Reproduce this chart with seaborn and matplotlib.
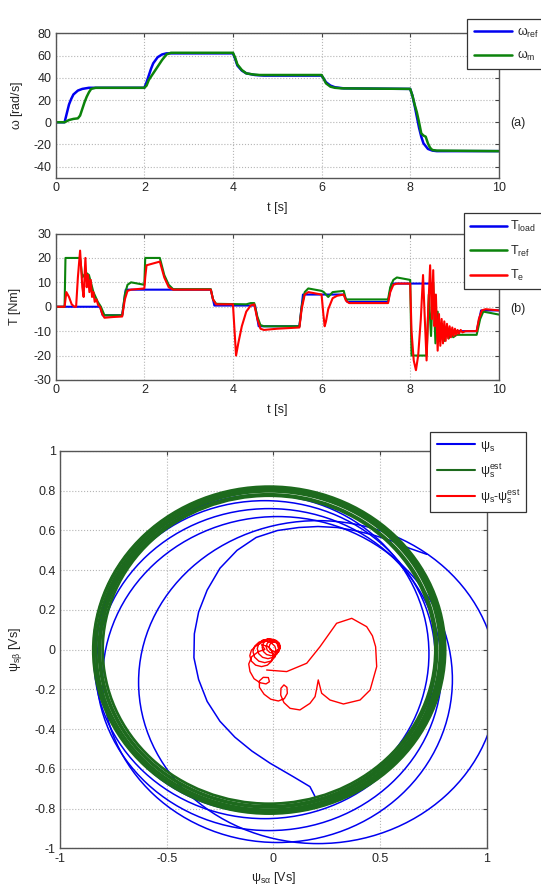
import matplotlib
matplotlib.use("Agg")
import matplotlib.pyplot as plt
from matplotlib.lines import Line2D
from matplotlib.patches import Ellipse
import seaborn as sns

# ---------------- data ----------------
# (a) speed
w_ref_t = [0, 0.2, 0.25, 0.3, 0.35, 0.4, 0.5, 0.6, 0.75, 0.9, 2.0, 2.05, 2.1, 2.15, 2.2, 2.3, 2.4, 2.5,
           4.0, 4.05, 4.1, 4.2, 4.3, 4.5, 4.7, 6.0, 6.05, 6.1, 6.2, 6.3, 6.5,
           8.0, 8.05, 8.1, 8.15, 8.2, 8.25, 8.3, 8.4, 8.5, 8.6, 10.0]
w_ref = [0, 0, 8, 16, 21, 25, 28.5, 30, 31, 31, 31, 36, 42, 48, 53, 58.5, 61, 62,
         62, 57, 51, 46.5, 44, 42.5, 42, 42, 39, 36, 33, 31.5, 30.5,
         30, 24, 15, 5, -5, -13, -19, -24, -25.5, -26, -26]
w_m_t = [0, 0.2, 0.3, 0.4, 0.5, 0.55, 0.6, 0.65, 0.7, 0.75, 0.8, 0.9, 2.0, 2.05, 2.1, 2.2, 2.3, 2.4, 2.5, 2.6,
         4.0, 4.05, 4.1, 4.2, 4.3, 4.45, 4.6, 6.0, 6.05, 6.1, 6.2, 6.3, 6.45,
         8.0, 8.05, 8.1, 8.15, 8.2, 8.25, 8.3, 8.35, 8.4, 8.45, 8.5, 8.6, 10.0]
w_m = [0, 0, 2, 3, 3.5, 6, 12, 18, 23, 27, 30, 31, 31, 33, 38, 44, 50, 56, 61, 62.5,
       62.5, 58, 52, 47, 44, 43, 42.5, 42.5, 39, 35, 32, 31, 30.5,
       30, 24, 16, 9, 0, -10, -12, -13, -19, -23, -25, -25.5, -26]

# (b) torque
tl_t = [0, 1.0, 1.06, 1.5, 1.58, 3.5, 3.58, 4.5, 4.58, 5.5, 5.58, 6.5, 6.58, 7.5, 7.58, 8.5, 8.58, 9.5, 9.6, 10.0]
t_load = [0, 0, -3.5, -3.5, 7, 7, 0.5, 0.5, -8, -8, 5, 5, 2, 2, 9.5, 9.5, -10, -10, -1.5, -1.5]
tr_t = [0, 0.2, 0.22, 0.55, 0.6, 0.68, 0.75, 0.85, 0.95, 1.02, 1.1, 1.5, 1.56, 1.62, 1.7, 2.0, 2.02, 2.35, 2.45, 2.55,
        2.65, 3.5, 3.55, 3.62, 4.3, 4.4, 4.48, 4.55, 4.62, 4.7, 5.5, 5.55, 5.62, 5.7, 6.0, 6.05, 6.15, 6.25, 6.5, 6.55,
        6.62, 7.5, 7.55, 7.62, 7.7, 8.0, 8.03, 8.37, 8.42, 8.47, 8.52, 8.57, 8.62, 8.67, 8.72, 8.77, 8.82, 8.87, 8.92, 8.97,
        9.05, 9.5, 9.58, 9.65, 9.8, 10.0]
t_ref = [0, 0, 20, 20, 12, 14, 13, 6, 2, 0, -3.5, -3.5, 5, 9, 10, 9, 20, 20, 13, 9,
         7.2, 7.2, 3, 1.2, 1, 1.5, 1.5, -4, -7.5, -8, -8, 0, 6, 7.5, 6.5, 6, 4, 6, 6.5, 3,
         3, 3, 8, 11, 12, 11, -20, -20, 5, -12, 10, -15, -2, -14, -7, -14, -9, -13, -10, -12.5,
         -11.5, -11.5, -5, -2, -2.5, -3.2]
te_t = [0, 0.2, 0.24, 0.3, 0.36, 0.42, 0.46, 0.5, 0.55, 0.6, 0.63, 0.67, 0.7, 0.73, 0.76, 0.79, 0.82, 0.85, 0.88, 0.92,
        0.96, 1.0, 1.05, 1.1, 1.3, 1.5, 1.56, 1.62, 1.7, 2.0, 2.02, 2.05, 2.35, 2.45, 2.55, 2.65, 3.5, 3.55, 3.62, 4.0,
        4.03, 4.07, 4.12, 4.2, 4.3, 4.4, 4.48, 4.55, 4.62, 4.7, 5.0, 5.5, 5.55, 5.62, 5.7, 6.0, 6.04, 6.07, 6.1, 6.15,
        6.25, 6.35, 6.5, 6.55, 6.62, 7.5, 7.55, 7.62, 7.7, 8.0, 8.03, 8.08, 8.13, 8.18, 8.24, 8.29, 8.33, 8.37, 8.41, 8.45,
        8.49, 8.52, 8.55, 8.58, 8.62, 8.65, 8.68, 8.71, 8.74, 8.77, 8.8, 8.83, 8.86, 8.89, 8.92, 8.95, 8.98, 9.01, 9.04, 9.07,
        9.1, 9.14, 9.18, 9.25, 9.5, 9.55, 9.62, 9.7, 10.0]
t_e = [0, 0, 6, 4, 1, 0, 0, 12, 23, 8, 4, 20, 8, 13, 6, 11, 4, 6, 2, 3,
       0.5, 0, -3, -4.5, -4.2, -4, 3, 6.5, 7, 7.5, 12, 17, 18.5, 12, 8, 7, 7, 3, 1, 1,
       -8, -20, -15, -8, -2, 0.5, 1, -5, -9, -9.5, -9, -8.5, -1, 5, 6, 5, -3, -8, -6, -1,
       3.5, 4.5, 5, 2.5, 1.5, 1.5, 6, 9, 9.5, 9.5, -10, -22, -26, -20, -5, 13, -5, -22, 0, 17,
       -5, 15, -8, 5, -18, -3, -16, -5, -15, -6, -14, -7, -13, -8, -12.5, -8.5, -12, -9, -11.5, -9.5,
       -11, -9.5, -10.5, -10, -10, -5, -1.5, -1, -1.5]

# (c) stator flux: start of the trajectory, then loops (centre, width, height)
psi_start_a = [0.196, 0.172, 0.094, -0.015, -0.10, -0.18, -0.25, -0.31, -0.35, -0.372, -0.37, -0.35, -0.31,
               -0.25, -0.17, -0.08, 0.02, 0.12, 0.21, 0.30, 0.38, 0.46, 0.55, 0.64, 0.72]
psi_start_b = [-0.739, -0.689, -0.639, -0.571, -0.51, -0.44, -0.36, -0.26, -0.15, -0.04, 0.08, 0.19, 0.30,
               0.41, 0.50, 0.565, 0.60, 0.615, 0.62, 0.615, 0.60, 0.58, 0.55, 0.51, 0.48]
psi_loop_cx = [0.21, 0.02, -0.02, -0.04, -0.05]
psi_loop_cy = [-0.163, -0.15, -0.10, -0.05, -0.02]
psi_loop_w = [1.683, 1.64, 1.62, 1.60, 1.56]
psi_loop_h = [1.625, 1.64, 1.62, 1.60, 1.60]
est_cx = [-0.02, -0.022, -0.018, -0.02, -0.021, -0.019]
est_cy = [0.0, -0.003, 0.002, 0.0, 0.0, -0.002]
est_w = [1.56, 1.58, 1.60, 1.62, 1.64, 1.65]
est_h = [1.55, 1.57, 1.59, 1.61, 1.63, 1.645]
err_a = [-0.031, 0.063, 0.157, 0.219, 0.297, 0.368, 0.438, 0.465, 0.480, 0.485, 0.454, 0.407, 0.329, 0.266,
         0.227, 0.211, 0.204, 0.196, 0.172,
         0.125, 0.079, 0.050, 0.035, 0.036, 0.050, 0.064, 0.066, 0.052, 0.024, -0.012, -0.043, -0.065,
         -0.065, -0.047, -0.023, -0.018, -0.034, -0.062, -0.090, -0.109, -0.115, -0.101, -0.070, -0.039,
         -0.055, -0.0275, -0.0074, 0.0, -0.0074, -0.0275, -0.055, -0.0825, -0.1026, -0.11, -0.1026, -0.0825,
         -0.04, -0.0125, 0.0076, 0.015, 0.0076, -0.0125, -0.04, -0.0675, -0.0876, -0.095, -0.0876, -0.0675,
         -0.025, 0.0, 0.0183, 0.025, 0.0183, 0.0, -0.025, -0.05, -0.0683, -0.075, -0.0683, -0.05,
         -0.01, 0.011, 0.0264, 0.032, 0.0264, 0.011, -0.01, -0.031, -0.0464, -0.052, -0.0464, -0.031,
         0.0, 0.0165, 0.0286, 0.033, 0.0286, 0.0165, 0.0, -0.0165, -0.0286, -0.033, -0.0286, -0.0165,
         0.005, 0.017, 0.0258, 0.029, 0.0258, 0.017, 0.005, -0.007, -0.0158, -0.019, -0.0158, -0.007, 0.005]
err_b = [-0.102, -0.110, -0.068, 0.015, 0.133, 0.158, 0.116, 0.070, 0.015, -0.085, -0.203, -0.253, -0.273, -0.253,
         -0.219, -0.152, -0.194, -0.236, -0.270,
         -0.303, -0.295, -0.266, -0.228, -0.194, -0.177, -0.189, -0.219, -0.246, -0.258, -0.249, -0.224, -0.189,
         -0.157, -0.139, -0.140, -0.161, -0.172, -0.166, -0.146, -0.110, -0.072, -0.035, -0.010, 0.002,
         0.025, 0.0176, -0.0025, -0.03, -0.0575, -0.0776, -0.085, -0.0776, -0.0575, -0.03, -0.0025, 0.0176,
         0.045, 0.0376, 0.0175, -0.01, -0.0375, -0.0576, -0.065, -0.0576, -0.0375, -0.01, 0.0175, 0.0376,
         0.055, 0.0483, 0.03, 0.005, -0.02, -0.0383, -0.045, -0.0383, -0.02, 0.005, 0.03, 0.0483,
         0.054, 0.0484, 0.033, 0.012, -0.009, -0.0244, -0.03, -0.0244, -0.009, 0.012, 0.033, 0.0484,
         0.048, 0.0436, 0.0315, 0.015, -0.0015, -0.0136, -0.018, -0.0136, -0.0015, 0.015, 0.0315, 0.0436,
         0.039, 0.0358, 0.027, 0.015, 0.003, -0.0058, -0.009, -0.0058, 0.003, 0.015, 0.027, 0.0358, 0.039]

BLUE = "#0000f0"
GREEN = "#0b830b"
DKGREEN = "#1d6a1d"
RED = "#ff0000"

# ---------------- style ----------------
sns.set_style("white")
plt.rcParams['font.family'] = ['Liberation Sans', 'DejaVu Sans']
plt.rcParams['mathtext.fontset'] = 'custom'
plt.rcParams['mathtext.rm'] = 'Liberation Sans'
plt.rcParams['mathtext.it'] = 'Liberation Sans:italic'
plt.rcParams['mathtext.default'] = 'regular'
plt.rcParams['axes.unicode_minus'] = False

fig = plt.figure(figsize=(5.41, 8.89), dpi=100)
ax1 = fig.add_axes([0.103, 0.80, 0.819, 0.1625])
ax2 = fig.add_axes([0.103, 0.5726, 0.819, 0.1647])
ax3 = fig.add_axes([0.1109, 0.0456, 0.7884, 0.4471])


def matlab_look(ax):
    ax.grid(True, linestyle=':', color='#b5b5b5', linewidth=0.8)
    ax.tick_params(direction='in', top=True, right=True, length=3, width=0.8,
                   color='#444444', labelsize=9, pad=3)
    for s in ax.spines.values():
        s.set_color('#555555')
        s.set_linewidth(1.0)


def legend_box(handles, labels, x, y, **kw):
    leg = fig.legend(handles, labels, loc='upper left', bbox_to_anchor=(x, y),
                     fancybox=False, framealpha=1, edgecolor='#333333', fontsize=9,
                     borderpad=0.5, **kw)
    leg.get_frame().set_linewidth(0.9)
    return leg


# ---------------- (a) ----------------
sns.lineplot(x=w_ref_t, y=w_ref, ax=ax1, color=BLUE, linewidth=1.8, sort=False, estimator=None)
sns.lineplot(x=w_m_t, y=w_m, ax=ax1, color=GREEN, linewidth=1.8, sort=False, estimator=None)
ax1.set_xlim(0, 10)
ax1.set_ylim(-50, 80)
ax1.set_xticks([0, 2, 4, 6, 8, 10])
ax1.set_yticks([-40, -20, 0, 20, 40, 60, 80])
ax1.set_xlabel("t [s]", fontsize=9)
ax1.set_ylabel(r"$\omega$ [rad/s]", fontsize=9)
ax1.xaxis.set_label_coords(0.5, -0.21)
ax1.xaxis.label.set_va('center')
ax1.yaxis.set_label_coords(-0.087, 0.5)
ax1.yaxis.label.set_va('center')
matlab_look(ax1)
legend_box([Line2D([], [], color=BLUE, lw=1.8), Line2D([], [], color=GREEN, lw=1.8)],
           [r"$\omega_{ref}$", r"$\omega_m$"], 461 / 541, 1 - 13 / 889, labelspacing=0.75,
           handlelength=3.1, handletextpad=0.35)
fig.text(518 / 541, 1 - 123 / 889, "(a)", ha='center', va='center', fontsize=9)

# ---------------- (b) ----------------
sns.lineplot(x=tl_t, y=t_load, ax=ax2, color=BLUE, linewidth=1.5, sort=False, estimator=None)
sns.lineplot(x=tr_t, y=t_ref, ax=ax2, color=GREEN, linewidth=1.5, sort=False, estimator=None)
sns.lineplot(x=te_t, y=t_e, ax=ax2, color=RED, linewidth=1.5, sort=False, estimator=None)
ax2.set_xlim(0, 10)
ax2.set_ylim(-30, 30)
ax2.set_xticks([0, 2, 4, 6, 8, 10])
ax2.set_yticks([-30, -20, -10, 0, 10, 20, 30])
ax2.set_xlabel("t [s]", fontsize=9)
ax2.set_ylabel("T [Nm]", fontsize=9)
ax2.xaxis.set_label_coords(0.5, -0.205)
ax2.xaxis.label.set_va('center')
ax2.yaxis.set_label_coords(-0.092, 0.5)
ax2.yaxis.label.set_va('center')
matlab_look(ax2)
legend_box([Line2D([], [], color=BLUE, lw=1.8), Line2D([], [], color=GREEN, lw=1.8),
            Line2D([], [], color=RED, lw=1.8)],
           [r"$T_{load}$", r"$T_{ref}$", r"$T_e$"], 458 / 541, 1 - 206.5 / 889, labelspacing=0.75,
           handlelength=2.9, handletextpad=0.3)
fig.text(518 / 541, 1 - 309 / 889, "(b)", ha='center', va='center', fontsize=9)

# ---------------- (c) ----------------
sns.lineplot(x=psi_start_a, y=psi_start_b, ax=ax3, color=BLUE, linewidth=1.1, sort=False, estimator=None)
for cx, cy, w, h in zip(psi_loop_cx, psi_loop_cy, psi_loop_w, psi_loop_h):
    ax3.add_patch(Ellipse((cx, cy), w, h, fill=False, edgecolor=BLUE, lw=1.1, zorder=2))
for cx, cy, w, h in zip(est_cx, est_cy, est_w, est_h):
    ax3.add_patch(Ellipse((cx, cy), w, h, fill=False, edgecolor=DKGREEN, lw=2.0, zorder=3))
sns.lineplot(x=err_a, y=err_b, ax=ax3, color=RED, linewidth=1.0, sort=False, estimator=None, zorder=4)
ax3.set_xlim(-1, 1)
ax3.set_ylim(-1, 1)
ax3.set_xticks([-1, -0.5, 0, 0.5, 1])
ax3.set_xticklabels(["-1", "-0.5", "0", "0.5", "1"])
ax3.set_yticks([-1, -0.8, -0.6, -0.4, -0.2, 0, 0.2, 0.4, 0.6, 0.8, 1])
ax3.set_yticklabels(["-1", "-0.8", "-0.6", "-0.4", "-0.2", "0", "0.2", "0.4", "0.6", "0.8", "1"])
ax3.set_xlabel(r"$\psi_{s\alpha}$ [Vs]", fontsize=9)
ax3.set_ylabel(r"$\psi_{s\beta}$ [Vs]", fontsize=9)
ax3.xaxis.set_label_coords(0.5, -0.074)
ax3.xaxis.label.set_va('center')
ax3.yaxis.set_label_coords(-0.104, 0.5)
ax3.yaxis.label.set_va('center')
matlab_look(ax3)
legend_box([Line2D([], [], color=BLUE, lw=1.5), Line2D([], [], color=DKGREEN, lw=1.5),
            Line2D([], [], color=RED, lw=1.5)],
           [r"$\psi_s$", r"$\psi_s^{est}$", r"$\psi_s$-$\psi_s^{est}$"], 424 / 541, 1 - 426 / 889,
           labelspacing=0.6, handlelength=3.1, handletextpad=0.35)

fig.savefig("out.png", dpi=100)
